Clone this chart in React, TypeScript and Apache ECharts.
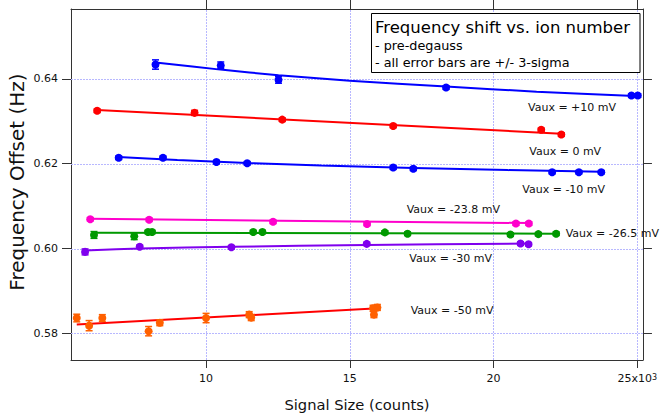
import React, { useEffect, useRef } from 'react';
import * as echarts from 'echarts';

const FONT = "'DejaVu Sans', Verdana, sans-serif";

// Axes
const xMin = 5.3;
const xMax = 25.2;
const yMin = 0.5737;
const yMax = 0.6565;
const xTicks = [10, 15, 20, 25];
const yTicks = [0.58, 0.6, 0.62, 0.64];

// Vaux = +10 mV
const p10X = [8.24, 10.51, 12.52, 18.35, 24.8, 25.02];
const p10Y = [0.6434, 0.6432, 0.6398, 0.638, 0.6361, 0.6361];
const p10E = [0.0011, 0.0008, 0.0008, 0.0004, 0.0004, 0.0004];
const fit10X = [8.24, 10.5, 12.52, 15, 18.35, 21.5, 25.12];
const fit10Y = [0.6439, 0.6422, 0.6409, 0.6396, 0.6382, 0.637, 0.6359];

// Vaux = 0 mV
const p0X = [6.21, 9.6, 12.65, 16.51, 21.66, 22.36];
const p0Y = [0.6325, 0.632, 0.6304, 0.6289, 0.628, 0.6269];
const p0E = [0.0004, 0.0006, 0.0004, 0.0004, 0.0004, 0.0004];
const fit0X = [6.21, 22.36];
const fit0Y = [0.6327, 0.6271];

// Vaux = -10 mV
const pm10X = [6.96, 8.5, 10.36, 11.43, 16.51, 17.21, 22.04, 22.97, 23.75];
const pm10Y = [0.6214, 0.6214, 0.6204, 0.6201, 0.6191, 0.6188, 0.618, 0.618, 0.618];
const pm10E = [0.0004, 0.0004, 0.0004, 0.0004, 0.0004, 0.0004, 0.0004, 0.0004, 0.0004];
const fitm10X = [6.95, 9, 11.43, 14, 17.21, 20.5, 23.75];
const fitm10Y = [0.6216, 0.6209, 0.6202, 0.6196, 0.619, 0.6185, 0.6181];

// Vaux = -23.8 mV
const pm238X = [5.97, 8.02, 12.33, 15.6, 20.78, 21.23];
const pm238Y = [0.6069, 0.6068, 0.6063, 0.6058, 0.6059, 0.6059];
const pm238E = [0.0004, 0.0004, 0.0004, 0.0004, 0.0004, 0.0004];
const fitm238X = [5.97, 21.23];
const fitm238Y = [0.607, 0.606];

// Vaux = -26.5 mV
const pm265X = [6.1, 7.5, 7.98, 8.12, 11.64, 11.96, 16.22, 17.01, 20.59, 21.56, 22.18];
const pm265Y = [0.6032, 0.6029, 0.6039, 0.6039, 0.6039, 0.6039, 0.6038, 0.6035, 0.6033, 0.6034, 0.6035];
const pm265E = [0.0008, 0.0008, 0.0004, 0.0004, 0.0004, 0.0004, 0.0004, 0.0004, 0.0004, 0.0004, 0.0004];
const fitm265X = [6.1, 22.18];
const fitm265Y = [0.6037, 0.6035];

// Vaux = -30 mV
const pm30X = [5.79, 7.69, 10.88, 15.59, 20.94, 21.22];
const pm30Y = [0.5992, 0.6004, 0.6003, 0.6011, 0.6012, 0.601];
const pm30E = [0.0007, 0.0004, 0.0004, 0.0004, 0.0004, 0.0004];
const fitm30X = [5.78, 7.71, 10.88, 15.58, 21.22];
const fitm30Y = [0.59955, 0.6, 0.6004, 0.60085, 0.60116];

// Vaux = -50 mV
const pm50X = [5.5, 5.93, 6.39, 8.0, 8.39, 10.0, 11.5, 11.57, 15.81, 15.84, 15.96];
const pm50Y = [0.5836, 0.5818, 0.5836, 0.5805, 0.5825, 0.5836, 0.5844, 0.5837, 0.5859, 0.5844, 0.5861];
const pm50E = [0.0009, 0.0012, 0.0008, 0.0011, 0.0007, 0.0011, 0.0007, 0.0007, 0.0007, 0.0007, 0.0007];
const fitm50X = [5.5, 16.0];
const fitm50Y = [0.5821, 0.5859];

const groupLabels = [
  'Vaux = +10 mV',
  'Vaux = 0 mV',
  'Vaux = -10 mV',
  'Vaux = -23.8 mV',
  'Vaux = -26.5 mV',
  'Vaux = -30 mV',
  'Vaux = -50 mV',
];

const legendTitle = 'Frequency shift vs. ion number';
const legendLines = ['- pre-degauss', '- all error bars are +/- 3-sigma'];
const xName = 'Signal Size (counts)';
const yName = 'Frequency Offset (Hz)';

const groups = [
  { color: '#0000ff', fit: '#0000ff', x: p10X, y: p10Y, e: p10E, fx: fit10X, fy: fit10Y, smooth: true, lx: 528, ly: 107.5 },
  { color: '#ff0000', fit: '#ff0000', x: p0X, y: p0Y, e: p0E, fx: fit0X, fy: fit0Y, smooth: false, lx: 529.3, ly: 151.2 },
  { color: '#0000ff', fit: '#0000ff', x: pm10X, y: pm10Y, e: pm10E, fx: fitm10X, fy: fitm10Y, smooth: true, lx: 522.3, ly: 189.3 },
  { color: '#ff00cc', fit: '#ff00cc', x: pm238X, y: pm238Y, e: pm238E, fx: fitm238X, fy: fitm238Y, smooth: false, lx: 406.7, ly: 209 },
  { color: '#009900', fit: '#009900', x: pm265X, y: pm265Y, e: pm265E, fx: fitm265X, fy: fitm265Y, smooth: false, lx: 565.7, ly: 233 },
  { color: '#7f00ee', fit: '#7f00ee', x: pm30X, y: pm30Y, e: pm30E, fx: fitm30X, fy: fitm30Y, smooth: true, lx: 409.3, ly: 258.7 },
  { color: '#ff6000', fit: '#ff0000', x: pm50X, y: pm50Y, e: pm50E, fx: fitm50X, fy: fitm50Y, smooth: false, lx: 410.7, ly: 310.7 },
];

const GRID_COLOR = '#b8b8ff';

function errorBar(color: string) {
  return (params: any, api: any) => {
    const x = api.value(0);
    const y = api.value(1);
    const e = api.value(2);
    const hi = api.coord([x, y + e]);
    const lo = api.coord([x, y - e]);
    const w = 3.5;
    const style = { stroke: color, lineWidth: 1.5 };
    return {
      type: 'group',
      children: [
        { type: 'line', shape: { x1: hi[0], y1: hi[1], x2: lo[0], y2: lo[1] }, style },
        { type: 'line', shape: { x1: hi[0] - w, y1: hi[1], x2: hi[0] + w, y2: hi[1] }, style },
        { type: 'line', shape: { x1: lo[0] - w, y1: lo[1], x2: lo[0] + w, y2: lo[1] }, style },
      ],
    };
  };
}

function vGrid(params: any, api: any) {
  const v = api.value(0);
  const a = api.coord([v, yMin]);
  const b = api.coord([v, yMax]);
  const x = Math.round(a[0]) + 0.5;
  return {
    type: 'line',
    shape: { x1: x, y1: a[1], x2: x, y2: b[1] },
    style: { stroke: GRID_COLOR, lineWidth: 1, lineDash: [2, 1] },
  };
}

function hGrid(params: any, api: any) {
  const v = api.value(1);
  const a = api.coord([xMin, v]);
  const b = api.coord([xMax, v]);
  const y = Math.round(a[1]) + 0.5;
  return {
    type: 'line',
    shape: { x1: a[0], y1: y, x2: b[0], y2: y },
    style: { stroke: GRID_COLOR, lineWidth: 1, lineDash: [2, 1] },
  };
}

export default function App() {
  const ref = useRef<HTMLDivElement>(null);
  useEffect(() => {
    if (!ref.current) return;
    const chart = echarts.init(ref.current, null, { renderer: 'svg' });
    const axisColor = '#333';
    const series: any[] = [
      {
        type: 'custom',
        data: xTicks.map((v) => [v, yMin]),
        encode: { x: 0, y: 1 },
        renderItem: vGrid,
        silent: true,
        clip: true,
        z: 1,
      },
      {
        type: 'custom',
        data: yTicks.map((v) => [xMin, v]),
        encode: { x: 0, y: 1 },
        renderItem: hGrid,
        silent: true,
        clip: true,
        z: 1,
      },
    ];
    groups.forEach((g) => {
      series.push({
        type: 'line',
        data: g.fx.map((x, i) => [x, g.fy[i]]),
        showSymbol: false,
        smooth: g.smooth ? 0.3 : false,
        lineStyle: { color: g.fit, width: 2 },
        silent: true,
        z: 2,
      });
      series.push({
        type: 'custom',
        data: g.x.map((x, i) => [x, g.y[i], g.e[i]]),
        encode: { x: 0, y: 1 },
        renderItem: errorBar(g.color),
        silent: true,
        z: 3,
      });
      series.push({
        type: 'scatter',
        data: g.x.map((x, i) => [x, g.y[i]]),
        symbol: 'circle',
        symbolSize: 8,
        itemStyle: { color: g.color, opacity: 1 },
        silent: true,
        z: 4,
      });
    });

    const graphic: any[] = [];
    groups.forEach((g, i) => {
      graphic.push({
        type: 'text',
        x: g.lx,
        y: g.ly,
        z: 50,
        style: {
          text: groupLabels[i],
          fill: '#111',
          fontSize: 11,
          fontFamily: FONT,
          align: 'left',
          verticalAlign: 'middle',
          textAlign: 'left',
          textVerticalAlign: 'middle',
        },
      });
    });
    graphic.push({
      type: 'rect',
      shape: { x: 371.5, y: 13.5, width: 268.5, height: 59 },
      style: { fill: '#fff', stroke: '#000', lineWidth: 1 },
      z: 100,
    });
    graphic.push({
      type: 'text',
      x: 375,
      y: 27.5,
      z: 101,
      style: { text: legendTitle, fill: '#000', fontSize: 16.5, fontFamily: FONT, align: 'left', verticalAlign: 'middle', textAlign: 'left', textVerticalAlign: 'middle' },
    });
    legendLines.forEach((t, i) => {
      graphic.push({
        type: 'text',
        x: 375,
        y: 45.7 + i * 17,
        z: 101,
        style: { text: t, fill: '#000', fontSize: 12.8, fontFamily: FONT, align: 'left', verticalAlign: 'middle', textAlign: 'left', textVerticalAlign: 'middle' },
      });
    });
    graphic.push({
      type: 'text',
      x: 357,
      y: 404,
      z: 50,
      style: { text: xName, fill: '#111', fontSize: 14.7, fontFamily: FONT, align: 'center', verticalAlign: 'middle', textAlign: 'center', textVerticalAlign: 'middle' },
    });
    graphic.push({
      type: 'text',
      x: 17,
      y: 182,
      rotation: Math.PI / 2,
      z: 50,
      style: { text: yName, fill: '#111', fontSize: 20, fontFamily: FONT, align: 'center', verticalAlign: 'middle', textAlign: 'center', textVerticalAlign: 'middle' },
    });

    chart.setOption({
      animation: false,
      backgroundColor: '#fff',
      grid: { left: 71, right: 17, top: 9, bottom: 58, containLabel: false },
      xAxis: [
        {
          type: 'value',
          position: 'bottom',
          min: xMin,
          max: xMax,
          axisLine: { show: true, onZero: false, lineStyle: { color: axisColor, width: 1 } },
          axisTick: { show: true, customValues: xTicks, length: 8, lineStyle: { color: axisColor } },
          axisLabel: {
            customValues: xTicks,
            margin: 13,
            fontSize: 11,
            fontFamily: FONT,
            color: '#111',
            formatter: (v: number) => (v === 25 ? '25x10{sup|3}' : String(v)),
            rich: { sup: { fontSize: 8, fontFamily: FONT, color: '#111', verticalAlign: 'top' } },
          },
          splitLine: { show: false },
        },
        {
          type: 'value',
          position: 'top',
          min: xMin,
          max: xMax,
          axisLine: { show: true, onZero: false, lineStyle: { color: axisColor, width: 1 } },
          axisTick: { show: true, customValues: xTicks, length: 9, lineStyle: { color: axisColor } },
          axisLabel: { show: false },
          splitLine: { show: false },
        },
      ],
      yAxis: [
        {
          type: 'value',
          position: 'left',
          min: yMin,
          max: yMax,
          axisLine: { show: true, onZero: false, lineStyle: { color: axisColor, width: 1 } },
          axisTick: { show: true, customValues: yTicks, length: 9, lineStyle: { color: axisColor } },
          axisLabel: {
            customValues: yTicks,
            margin: 13,
            fontSize: 11,
            fontFamily: FONT,
            color: '#111',
            formatter: (v: number) => v.toFixed(2),
          },
          splitLine: { show: false },
        },
        {
          type: 'value',
          position: 'right',
          min: yMin,
          max: yMax,
          axisLine: { show: true, onZero: false, lineStyle: { color: axisColor, width: 1 } },
          axisTick: { show: true, customValues: yTicks, length: 9, lineStyle: { color: axisColor } },
          axisLabel: { show: false },
          splitLine: { show: false },
        },
      ],
      series,
      graphic,
    });
    return () => chart.dispose();
  }, []);
  return <div ref={ref} style={{ position: 'fixed', left: 0, top: 0, width: 660, height: 418 }} />;
}
